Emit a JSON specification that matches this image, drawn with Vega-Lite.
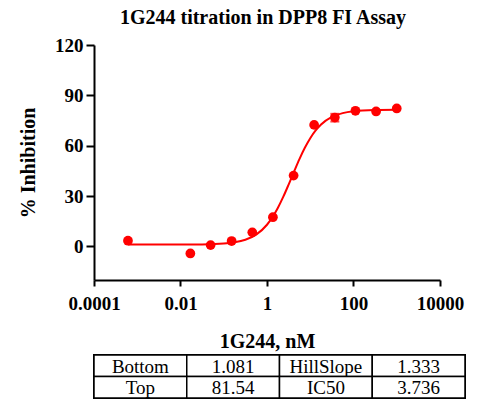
{
  "$schema": "https://vega.github.io/schema/vega-lite/v6.json",
  "padding": {"left": 18, "top": 8, "right": 5, "bottom": 5},
  "background": "white",
  "config": {
    "font": "Liberation Serif",
    "view": {"stroke": null},
    "axis": {
      "domainColor": "black", "domainWidth": 2,
      "tickColor": "black", "tickWidth": 2,
      "labelFont": "Liberation Serif", "labelFontWeight": "bold", "labelFontSize": 19, "labelColor": "black",
      "titleFont": "Liberation Serif", "titleFontWeight": "bold", "titleFontSize": 20, "titleColor": "black",
      "grid": false
    }
  },
  "datasets": {
    "points": [
      {"conc": 0.00061, "inh": 3.4},
      {"conc": 0.0169, "inh": -4.2},
      {"conc": 0.0497, "inh": 0.8},
      {"conc": 0.152, "inh": 3.2},
      {"conc": 0.457, "inh": 8.4},
      {"conc": 1.37, "inh": 17.4},
      {"conc": 4.12, "inh": 42.2},
      {"conc": 12.3, "inh": 72.4},
      {"conc": 37.0, "inh": 76.8, "lo": 74.4, "hi": 79.0},
      {"conc": 111, "inh": 80.8},
      {"conc": 333, "inh": 80.4},
      {"conc": 1000, "inh": 82.2}
    ],
    "curve": [
      {"conc": 0.00061, "fit": 1.08},
      {"conc": 0.001, "fit": 1.08},
      {"conc": 0.01, "fit": 1.11},
      {"conc": 0.0316, "fit": 1.22},
      {"conc": 0.1, "fit": 1.72},
      {"conc": 0.178, "fit": 2.45},
      {"conc": 0.316, "fit": 3.97},
      {"conc": 0.562, "fit": 7.05},
      {"conc": 1.0, "fit": 12.92},
      {"conc": 1.334, "fit": 17.34},
      {"conc": 1.778, "fit": 22.89},
      {"conc": 2.371, "fit": 29.48},
      {"conc": 3.162, "fit": 36.86},
      {"conc": 4.217, "fit": 44.55},
      {"conc": 5.623, "fit": 52.01},
      {"conc": 7.499, "fit": 58.76},
      {"conc": 10.0, "fit": 64.47},
      {"conc": 13.34, "fit": 69.08},
      {"conc": 17.78, "fit": 72.61},
      {"conc": 31.62, "fit": 77.13},
      {"conc": 56.23, "fit": 79.43},
      {"conc": 100, "fit": 80.55},
      {"conc": 316.2, "fit": 81.32},
      {"conc": 1000, "fit": 81.49}
    ],
    "table": [
      {"row": 1, "col": 1, "kind": "label", "text": "Bottom"},
      {"row": 1, "col": 2, "kind": "value", "text": "1.081"},
      {"row": 1, "col": 3, "kind": "label", "text": "HillSlope"},
      {"row": 1, "col": 4, "kind": "value", "text": "1.333"},
      {"row": 2, "col": 1, "kind": "label", "text": "Top"},
      {"row": 2, "col": 2, "kind": "value", "text": "81.54"},
      {"row": 2, "col": 3, "kind": "label", "text": "IC50"},
      {"row": 2, "col": 4, "kind": "value", "text": "3.736"}
    ]
  },
  "vconcat": [
    {
      "width": 346,
      "height": 235,
      "title": {
        "text": "1G244 titration in DPP8 FI Assay",
        "font": "Liberation Serif", "fontSize": 20, "fontWeight": "bold", "color": "black",
        "anchor": "middle", "frame": "group", "offset": 8, "dx": -4
      },
      "layer": [
        {
          "data": {"name": "curve"},
          "mark": {"type": "line", "color": "#ff0000", "strokeWidth": 2, "interpolate": "monotone"},
          "encoding": {
            "x": {
              "field": "conc", "type": "quantitative",
              "scale": {"type": "log", "domain": [0.0001, 10000], "nice": false},
              "axis": {"values": [0.0001, 0.01, 1, 100, 10000], "format": "~g", "title": "1G244, nM",
                       "labelFont": "Liberation Serif", "titleFont": "Liberation Serif",
                       "tickSize": 6, "labelPadding": 8, "titlePadding": 18, "labelFlush": false, "labelOverlap": false}
            },
            "y": {
              "field": "fit", "type": "quantitative",
              "scale": {"domain": [-20, 120], "nice": false, "zero": false},
              "axis": {"values": [0, 30, 60, 90, 120], "title": "% Inhibition",
                       "labelFont": "Liberation Serif", "titleFont": "Liberation Serif",
                       "tickSize": 8, "labelPadding": 3, "titlePadding": 16}
            }
          }
        },
        {
          "data": {"name": "points"},
          "transform": [{"filter": "isValid(datum.lo)"}],
          "mark": {"type": "rule", "color": "#ff0000", "strokeWidth": 2},
          "encoding": {
            "x": {"field": "conc", "type": "quantitative"},
            "y": {"field": "lo", "type": "quantitative"},
            "y2": {"field": "hi"}
          }
        },
        {
          "data": {"name": "points"},
          "transform": [{"fold": ["lo", "hi"], "as": ["bound", "val"]}, {"filter": "isValid(datum.val)"}],
          "mark": {"type": "tick", "color": "#ff0000", "orient": "horizontal", "size": 9, "thickness": 2},
          "encoding": {
            "x": {"field": "conc", "type": "quantitative"},
            "y": {"field": "val", "type": "quantitative"}
          }
        },
        {
          "data": {"name": "points"},
          "mark": {"type": "circle", "color": "#ff0000", "opacity": 1, "size": 95},
          "encoding": {
            "x": {"field": "conc", "type": "quantitative"},
            "y": {"field": "inh", "type": "quantitative"}
          }
        }
      ]
    },
    {
      "width": 371,
      "height": 43,
      "data": {"name": "table"},
      "view": {"stroke": "black", "strokeWidth": 2},
      "encoding": {
        "x": {"field": "col", "type": "ordinal", "scale": {"paddingInner": 0, "paddingOuter": 0}, "axis": null},
        "y": {"field": "row", "type": "ordinal", "scale": {"paddingInner": 0, "paddingOuter": 0}, "axis": null}
      },
      "layer": [
        {"mark": {"type": "rect", "fill": "white", "stroke": "black", "strokeWidth": 1.5}},
        {
          "transform": [{"filter": "datum.kind === 'label'"}],
          "mark": {"type": "text", "font": "Liberation Serif", "fontSize": 19, "color": "black", "align": "center", "baseline": "middle", "dy": 1},
          "encoding": {"text": {"field": "text"}}
        },
        {
          "transform": [{"filter": "datum.kind === 'value'"}],
          "mark": {"type": "text", "font": "Liberation Serif", "fontSize": 19, "color": "black", "align": "center", "baseline": "middle", "dy": 1},
          "encoding": {"text": {"field": "text"}}
        }
      ]
    }
  ],
  "spacing": 2,
  "resolve": {"scale": {"x": "independent", "y": "independent"}}
}
